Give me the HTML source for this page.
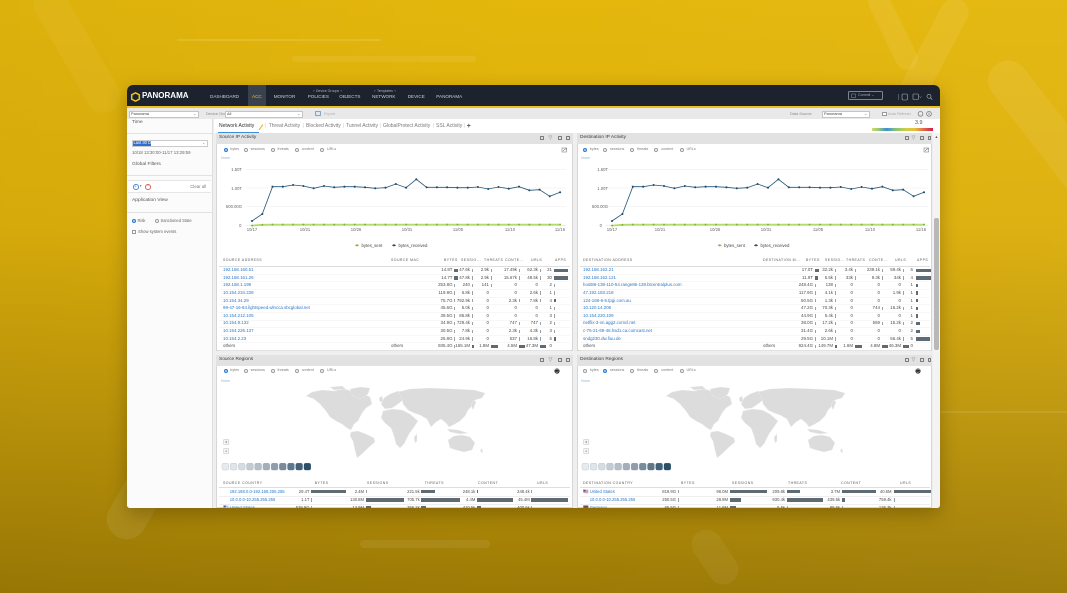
<!DOCTYPE html>
<html><head><meta charset="utf-8">
<style>
*{margin:0;padding:0;box-sizing:border-box}
html,body{width:1067px;height:593px;overflow:hidden}
body{position:relative;font-family:"Liberation Sans",sans-serif;background:#c9a00a}
.a{position:absolute}
.x{position:absolute;white-space:nowrap;line-height:1}
.s{position:absolute;background:rgba(255,255,255,.075);border-radius:40px}
.nav{font-size:4.6px;color:#c9ced5;top:95px}
.tb{font-size:3.9px;color:#8a8a8a}
.tab{font-size:5px;color:#7a7a7a;top:124.2px}
.sep{font-size:5px;color:#c8c8c8;top:124.2px}
.pt{font-size:4.8px;color:#3a3a3a}
.rl{font-size:3.7px;color:#7d7d7d}
.rd{position:absolute;width:4.2px;height:4.2px;border-radius:50%;border:0.5px solid #9a9a9a;background:#fff}
.rd.on{border-color:#2b7bd0;background:radial-gradient(circle,#2b7bd0 0 42%,#fff 50%)}
.hd{font-size:3.5px;color:#5a5a5a;letter-spacing:.45px}
.rw{position:absolute;left:0;width:1067px;height:5px;font-size:4.4px;color:#4d4d4d}
.rw .x{top:0}
.rr{position:absolute;left:0;width:1067px;height:5px;font-size:4.2px;color:#4d4d4d}
.rr .x{top:0}
.lk{color:#2b78c9}
.b{position:absolute;top:.5px;height:3.4px;background:#5e6a74}
.l{position:absolute;top:.5px;height:3.4px;width:.8px;background:#9aa2a9}
.ic{position:absolute;width:4.4px;height:4.4px;border:.6px solid #7a7a7a;border-radius:.6px}
</style></head><body>

<!-- background -->
<div class="a" style="left:0;top:0;width:1067px;height:593px;overflow:hidden">
<div class="a" style="left:0;top:0;width:1067px;height:593px;background:linear-gradient(180deg,#e4b70c 0%,#dcaf0b 38%,#bc950a 70%,#9c7a05 100%)"></div>
<div class="a" style="left:0;top:0;width:1067px;height:593px;background:linear-gradient(90deg,rgba(0,0,0,.03),rgba(255,255,255,0) 50%,rgba(255,255,255,.03))"></div>
<div class="s" style="left:906px;top:-10px;width:28px;height:175px;transform:rotate(28deg)"></div>
<div class="s" style="left:882px;top:-12px;width:22px;height:85px;transform:rotate(-26deg)"></div>
<div class="s" style="left:990px;top:60px;width:40px;height:230px;transform:rotate(-38deg);transform-origin:50% 10%"></div>
<div class="s" style="left:128px;top:420px;width:40px;height:125px;transform:rotate(30deg)"></div>
<div class="s" style="left:60px;top:-20px;width:34px;height:140px;transform:rotate(-30deg);background:rgba(255,255,255,.045)"></div>
<div class="s" style="left:700px;top:527px;width:30px;height:60px;transform:rotate(-34deg);background:rgba(255,255,255,.055)"></div>
<div class="s" style="left:177px;top:39px;width:204px;height:2px;background:rgba(255,255,255,.12)"></div>
<div class="s" style="left:292px;top:56px;width:184px;height:6px;background:rgba(255,255,255,.07)"></div>
<div class="s" style="left:360px;top:540px;width:130px;height:8px;background:rgba(255,255,255,.07)"></div>
<div class="s" style="left:939px;top:411px;width:128px;height:2px;background:rgba(255,255,255,.1)"></div>
</div>

<!-- window shadow -->
<div class="a" style="left:127px;top:85px;width:813px;height:423px;border-radius:6px 6px 3px 3px;box-shadow:0 6px 18px rgba(60,40,0,.35)"></div>

<div class="a" style="left:0;top:0;width:1067px;height:593px;overflow:hidden;clip-path:inset(85px 127px 85px 127px round 6px 6px 3px 3px)">
<div class="a" style="left:127px;top:85px;width:813px;height:423px;background:#efefef"></div>

<!-- header -->
<div class="a" style="left:127px;top:85px;width:813px;height:22px;background:#1c232e"></div>
<div class="a" style="left:127px;top:106px;width:813px;height:2px;background:#f0c020"></div>
<div class="a" style="left:247.7px;top:85px;width:18.6px;height:21px;background:#39414f"></div>
<div class="x" style="left:142px;top:92.3px;font-size:8px;font-weight:bold;color:#fff">PANORAMA</div>
<div class="x nav" style="left:210px">DASHBOARD</div>
<div class="x nav" style="left:252px;color:#f3c21b">ACC</div>
<div class="x nav" style="left:273.7px">MONITOR</div>
<div class="x nav" style="left:307.7px">POLICIES</div>
<div class="x nav" style="left:339.3px">OBJECTS</div>
<div class="x nav" style="left:372px">NETWORK</div>
<div class="x nav" style="left:407.7px">DEVICE</div>
<div class="x nav" style="left:436.3px">PANORAMA</div>
<div class="x" style="left:313px;top:89.6px;font-size:3.5px;color:#aab0b8">⌐ Device Groups ¬</div>
<div class="x" style="left:374px;top:89.6px;font-size:3.5px;color:#aab0b8">⌐ Templates ¬</div>
<div class="a" style="left:848px;top:91px;width:35px;height:9px;border:.7px solid #7d8590;border-radius:1.5px"></div>
<div class="x" style="left:858px;top:93.8px;font-size:3.6px;color:#a4abb4">Commit ⌄</div>

<!-- toolbar -->
<div class="a" style="left:127px;top:108px;width:813px;height:11px;background:#e9e9e9"></div>
<div class="a" style="left:129px;top:110.5px;width:70px;height:7px;background:#fff;border:.5px solid #c4c4c4"></div>
<div class="x tb" style="left:131px;top:112.1px;color:#444">Panorama</div>
<div class="x tb" style="left:193px;top:111.6px;color:#777">⌄</div>
<div class="x tb" style="left:206px;top:112.1px">Device Group</div>
<div class="a" style="left:225px;top:110.5px;width:78px;height:7px;background:#fff;border:.5px solid #c4c4c4"></div>
<div class="x tb" style="left:227px;top:112.1px;color:#444">All</div>
<div class="x tb" style="left:297px;top:111.6px;color:#777">⌄</div>
<div class="a" style="left:315px;top:111px;width:6px;height:5px;border:.6px solid #8aa4c0;border-radius:.6px;background:#dfe8f2"></div>
<div class="x tb" style="left:324px;top:112.1px;color:#b0b0b0">Export</div>
<div class="x tb" style="left:790px;top:112.1px">Data Source</div>
<div class="a" style="left:822px;top:110.5px;width:48px;height:7px;background:#fff;border:.5px solid #c4c4c4"></div>
<div class="x tb" style="left:824px;top:112.1px;color:#444">Panorama</div>
<div class="x tb" style="left:864px;top:111.6px;color:#777">⌄</div>
<div class="a" style="left:882px;top:111.5px;width:4.5px;height:4.5px;border:.5px solid #999;background:#fff"></div>
<div class="x tb" style="left:888px;top:112.1px;color:#aaa">Auto Refresh</div>

<!-- sidebar -->
<div class="a" style="left:127px;top:119px;width:86px;height:389px;background:#fbfbfb;border-right:1px solid #dedede"></div>
<div class="x" style="left:132px;top:120.8px;font-size:4.9px;color:#555">Time</div>
<div class="a" style="left:127px;top:133px;width:85px;height:.6px;background:#e2e2e2"></div>
<div class="a" style="left:132px;top:140px;width:76px;height:7px;background:#fff;border:.5px solid #cacaca"></div>
<div class="a" style="left:133px;top:140.8px;width:18px;height:5.4px;background:#2f6fd0"></div>
<div class="x" style="left:133.5px;top:141.4px;font-size:4.1px;color:#fff">Last 30 Days</div>
<div class="x" style="left:202px;top:140.8px;font-size:4px;color:#888">⌄</div>
<div class="x" style="left:132px;top:150.5px;font-size:4.3px;color:#666">10/18 13:30:00-11/17 13:29:59</div>
<div class="x" style="left:132px;top:162.6px;font-size:4.9px;color:#555">Global Filters</div>
<div class="a" style="left:127px;top:175px;width:85px;height:.6px;background:#e2e2e2"></div>
<div class="a" style="left:128px;top:180px;width:83px;height:13px;background:#fff;border-top:.5px solid #e6e6e6;border-bottom:.5px solid #e6e6e6"></div>
<div class="a" style="left:133px;top:184px;width:5.6px;height:5.6px;border-radius:50%;border:.7px solid #4a8fd6"></div>
<div class="x" style="left:134.3px;top:184.6px;font-size:4.4px;color:#4a8fd6">+</div>
<div class="x" style="left:139.8px;top:185px;font-size:3.4px;color:#666">▾</div>
<div class="a" style="left:145.3px;top:184px;width:5.6px;height:5.6px;border-radius:50%;border:.7px solid #e06060"></div>
<div class="x" style="left:146.6px;top:184.4px;font-size:4.4px;color:#e06060">−</div>
<div class="x" style="left:190.3px;top:185px;font-size:4.3px;color:#777">Clear all</div>
<div class="x" style="left:132px;top:198.6px;font-size:4.9px;color:#555">Application View</div>
<div class="a" style="left:127px;top:212px;width:85px;height:.6px;background:#e2e2e2"></div>
<div class="rd on" style="left:131.6px;top:219px"></div>
<div class="x" style="left:137.5px;top:219.2px;font-size:4.1px;color:#666">Risk</div>
<div class="rd" style="left:154.5px;top:219px"></div>
<div class="x" style="left:160.5px;top:219.2px;font-size:4.1px;color:#666">Sanctioned State</div>
<div class="a" style="left:131.6px;top:229.5px;width:4.3px;height:4.3px;border:.5px solid #999;background:#fff"></div>
<div class="x" style="left:138px;top:229.8px;font-size:4.2px;color:#666">Show system events</div>

<!-- tab row -->
<div class="a" style="left:214px;top:119px;width:726px;height:14px;background:#fff"></div>
<div class="x tab" style="left:219px;color:#333">Network Activity</div>
<div class="a" style="left:218px;top:131.8px;width:41px;height:1.2px;background:#3b8fd9"></div>
<div class="x sep" style="left:264.5px">|</div>
<div class="x tab" style="left:268.7px">Threat Activity</div>
<div class="x sep" style="left:302.5px">|</div>
<div class="x tab" style="left:306px">Blocked Activity</div>
<div class="x sep" style="left:343px">|</div>
<div class="x tab" style="left:346px">Tunnel Activity</div>
<div class="x sep" style="left:379.5px">|</div>
<div class="x tab" style="left:383px">GlobalProtect Activity</div>
<div class="x sep" style="left:432.5px">|</div>
<div class="x tab" style="left:436px">SSL Activity</div>
<div class="x sep" style="left:463.5px">|</div>
<div class="x" style="left:466.7px;top:122.5px;font-size:7px;font-weight:bold;color:#555">+</div>
<div class="x" style="left:915px;top:120.5px;font-size:5.4px;color:#555">3.9</div>
<div class="a" style="left:871.7px;top:128.3px;width:61.6px;height:2.4px;background:linear-gradient(90deg,#d8d86a 0%,#8cc77a 12%,#3d8ed6 24%,#7fc47a 38%,#c9cf4a 55%,#e8c03a 70%,#e86a4a 84%,#cf1f4a 100%)"></div>

<!-- panels -->
<div class="a" style="left:216px;top:133px;width:357px;height:218px;background:#fff;border:.5px solid #d6d6d6"></div>
<div class="a" style="left:577px;top:133px;width:355px;height:218px;background:#fff;border:.5px solid #d6d6d6"></div>
<div class="a" style="left:216px;top:355px;width:357px;height:153px;background:#fff;border:.5px solid #d6d6d6"></div>
<div class="a" style="left:577px;top:355px;width:355px;height:153px;background:#fff;border:.5px solid #d6d6d6"></div>
<div class="a" style="left:216px;top:133px;width:357px;height:10.5px;background:#e2e2e2"></div>
<div class="a" style="left:577px;top:133px;width:355px;height:10.5px;background:#e2e2e2"></div>
<div class="a" style="left:216px;top:355px;width:357px;height:10.5px;background:#e2e2e2"></div>
<div class="a" style="left:577px;top:355px;width:355px;height:10.5px;background:#e2e2e2"></div>
<div class="x pt" style="left:219px;top:135.8px">Source IP Activity</div>
<div class="x pt" style="left:580px;top:135.8px">Destination IP Activity</div>
<div class="x pt" style="left:219px;top:357.8px">Source Regions</div>
<div class="x pt" style="left:580px;top:357.8px">Destination Regions</div>
<!-- header icons -->
<div class="ic" style="left:540px;top:136px"></div><div class="ic" style="left:557.5px;top:136px"></div><div class="ic" style="left:566px;top:136px"></div>
<div class="ic" style="left:904.5px;top:136px"></div><div class="ic" style="left:920px;top:136px"></div><div class="ic" style="left:927.5px;top:136px;width:3px"></div>
<div class="ic" style="left:540px;top:358px"></div><div class="ic" style="left:557.5px;top:358px"></div><div class="ic" style="left:566px;top:358px"></div>
<div class="ic" style="left:904.5px;top:358px"></div><div class="ic" style="left:920px;top:358px"></div><div class="ic" style="left:927.5px;top:358px;width:3px"></div>
<div class="x" style="left:548.5px;top:135.6px;font-size:5px;color:#777">▽</div>
<div class="x" style="left:911.5px;top:135.6px;font-size:5px;color:#777">▽</div>
<div class="x" style="left:548.5px;top:357.6px;font-size:5px;color:#777">▽</div>
<div class="x" style="left:911.5px;top:357.6px;font-size:5px;color:#777">▽</div>

<!-- scrollbar -->
<div class="a" style="left:933px;top:133px;width:7px;height:375px;background:#f3f3f3"></div>
<div class="a" style="left:934.3px;top:218px;width:4.6px;height:132px;background:#b8b8b8;border-radius:2px"></div>
<div class="x" style="left:934.6px;top:135.5px;font-size:3.6px;color:#555">▲</div>

<!-- radio rows -->
<div class="rd on" style="left:223.5px;top:148px"></div><div class="x rl" style="left:230.3px;top:148.3px">bytes</div>
<div class="rd" style="left:243.5px;top:148px"></div><div class="x rl" style="left:250.5px;top:148.3px">sessions</div>
<div class="rd" style="left:270.5px;top:148px"></div><div class="x rl" style="left:277.5px;top:148.3px">threats</div>
<div class="rd" style="left:294.7px;top:148px"></div><div class="x rl" style="left:301.7px;top:148.3px">content</div>
<div class="rd" style="left:320.2px;top:148px"></div><div class="x rl" style="left:327px;top:148.3px">URLs</div>
<div class="rd on" style="left:583px;top:148px"></div><div class="x rl" style="left:589.8px;top:148.3px">bytes</div>
<div class="rd" style="left:603px;top:148px"></div><div class="x rl" style="left:610px;top:148.3px">sessions</div>
<div class="rd" style="left:630px;top:148px"></div><div class="x rl" style="left:637px;top:148.3px">threats</div>
<div class="rd" style="left:654.2px;top:148px"></div><div class="x rl" style="left:661.2px;top:148.3px">content</div>
<div class="rd" style="left:679.7px;top:148px"></div><div class="x rl" style="left:686.5px;top:148.3px">URLs</div>

<div class="rd on" style="left:223.5px;top:369px"></div><div class="x rl" style="left:230.3px;top:369.3px">bytes</div>
<div class="rd" style="left:243.5px;top:369px"></div><div class="x rl" style="left:250.5px;top:369.3px">sessions</div>
<div class="rd" style="left:270.5px;top:369px"></div><div class="x rl" style="left:277.5px;top:369.3px">threats</div>
<div class="rd" style="left:294.7px;top:369px"></div><div class="x rl" style="left:301.7px;top:369.3px">content</div>
<div class="rd" style="left:320.2px;top:369px"></div><div class="x rl" style="left:327px;top:369.3px">URLs</div>
<div class="rd" style="left:583px;top:369px"></div><div class="x rl" style="left:589.8px;top:369.3px">bytes</div>
<div class="rd on" style="left:603px;top:369px"></div><div class="x rl" style="left:610px;top:369.3px">sessions</div>
<div class="rd" style="left:630px;top:369px"></div><div class="x rl" style="left:637px;top:369.3px">threats</div>
<div class="rd" style="left:654.2px;top:369px"></div><div class="x rl" style="left:661.2px;top:369.3px">content</div>
<div class="rd" style="left:679.7px;top:369px"></div><div class="x rl" style="left:686.5px;top:369.3px">URLs</div>

<div class="x" style="left:221px;top:156.5px;font-size:3.4px;color:#8ab4dc">Home</div>
<div class="x" style="left:581px;top:156.5px;font-size:3.4px;color:#8ab4dc">Home</div>
<div class="x" style="left:221px;top:380px;font-size:3.4px;color:#8ab4dc">Home</div>
<div class="x" style="left:581px;top:380px;font-size:3.4px;color:#8ab4dc">Home</div>

<!-- SVG: charts, maps, icons -->
<svg class="a" style="left:0;top:0" width="1067" height="593" viewBox="0 0 1067 593" xmlns="http://www.w3.org/2000/svg">
<defs>
<marker id="mb" markerWidth="3" markerHeight="3" refX="1.5" refY="1.5" markerUnits="userSpaceOnUse"><circle cx="1.5" cy="1.5" r="1.05" fill="#1f4a68"/></marker>
<marker id="mg" markerWidth="3" markerHeight="3" refX="1.5" refY="1.5" markerUnits="userSpaceOnUse"><path d="M1.5,0.3 L2.7,1.5 L1.5,2.7 L0.3,1.5Z" fill="#7fb82e"/></marker>
<g id="map" fill="#dcdcdc" stroke="#f4f4f4" stroke-width=".3">
<path d="M306,396 L312,392 L322,390 L334,391 L344,389 L352,391 L356,395 L362,393 L370,397 L372,404 L366,408 L362,413 L358,421 L354,424 L351,430 L347,428 L342,424 L336,421 L330,417 L326,411 L320,404 L314,399 Z"/>
<path d="M330,387 L342,386 L346,389 L334,390 Z"/>
<path d="M350,389 L360,387 L370,388 L368,394 L360,399 L353,396 Z"/>
<path d="M351,432 L358,431 L366,434 L374,438 L375,442 L368,448 L362,454 L357,458 L355,450 L353,441 L350,436 Z"/>
<path d="M381,404 L384,398 L390,394 L398,391 L404,393 L403,400 L398,404 L392,408 L385,409 Z"/>
<path d="M398,392 L410,389 L430,388 L455,389 L474,390 L485,393 L482,398 L475,400 L472,406 L468,410 L465,416 L460,421 L455,424 L449,427 L446,423 L441,419 L436,422 L431,427 L427,419 L420,415 L414,413 L408,410 L403,404 L402,398 Z"/>
<path d="M383,411 L392,409 L402,410 L410,414 L418,421 L414,427 L409,434 L404,444 L400,448 L396,444 L394,436 L391,428 L385,423 L381,418 Z"/>
<path d="M448,440 L454,436 L462,435 L470,437 L475,443 L472,450 L464,452 L456,450 L450,448 Z"/>
<path d="M447,429 L458,430 L468,433 L460,434 L450,432 Z"/>
<path d="M379,398 L382,396 L383,401 L380,402 Z"/>
<path d="M471,405 L474,400 L476,402 L473,410 Z"/>
<path d="M414,437 L417,434 L417,441 L415,443 Z"/>
<path d="M480,451 L482,448 L483,453 Z"/>
</g>
<g id="scale">
<rect x="222" y="463.3" width="6.7" height="6.7" rx="1.6" fill="#e8ebee" stroke="#b8c0c7" stroke-width=".4"/>
<rect x="230.2" y="463.3" width="6.7" height="6.7" rx="1.6" fill="#e0e5e9" stroke="#b8c0c7" stroke-width=".4"/>
<rect x="238.4" y="463.3" width="6.7" height="6.7" rx="1.6" fill="#d6dde2" stroke="#b8c0c7" stroke-width=".4"/>
<rect x="246.6" y="463.3" width="6.7" height="6.7" rx="1.6" fill="#c3ccd3" stroke="#aab4bc" stroke-width=".4"/>
<rect x="254.8" y="463.3" width="6.7" height="6.7" rx="1.6" fill="#b4bfc8" stroke="#a0abb4" stroke-width=".4"/>
<rect x="263" y="463.3" width="6.7" height="6.7" rx="1.6" fill="#a3b0bb" stroke="#95a2ad" stroke-width=".4"/>
<rect x="271.2" y="463.3" width="6.7" height="6.7" rx="1.6" fill="#8e9eac" stroke="#8393a1" stroke-width=".4"/>
<rect x="279.4" y="463.3" width="6.7" height="6.7" rx="1.6" fill="#788b9b" stroke="#6e8191" stroke-width=".4"/>
<rect x="287.6" y="463.3" width="6.7" height="6.7" rx="1.6" fill="#5f778a" stroke="#566e81" stroke-width=".4"/>
<rect x="295.8" y="463.3" width="6.7" height="6.7" rx="1.6" fill="#436179" stroke="#3d5a72" stroke-width=".4"/>
<rect x="304" y="463.3" width="6.7" height="6.7" rx="1.6" fill="#2c4f69" stroke="#284a63" stroke-width=".4"/>
</g>
</defs>

<!-- header icons -->
<polygon points="135.5,92.8 139.3,94.8 139.3,99.2 135.5,101.2 131.7,99.2 131.7,94.8" fill="none" stroke="#f2c21a" stroke-width="1.5"/>
<line x1="898.5" y1="94" x2="898.5" y2="100" stroke="#8a919b" stroke-width=".5"/>
<rect x="902" y="94" width="5.5" height="6" rx="1.2" fill="none" stroke="#aeb4bc" stroke-width=".6"/>
<rect x="913" y="94" width="5.5" height="5.5" rx=".6" fill="none" stroke="#aeb4bc" stroke-width=".6"/>
<path d="M919.5,96.5 l1,1 l1,-1" fill="none" stroke="#aeb4bc" stroke-width=".5"/>
<circle cx="929" cy="96.3" r="2" fill="none" stroke="#aeb4bc" stroke-width=".6"/>
<line x1="930.4" y1="97.7" x2="932.3" y2="99.6" stroke="#aeb4bc" stroke-width=".7"/>
<rect x="851.5" y="94" width="4" height="3.5" fill="none" stroke="#8d949e" stroke-width=".5"/>
<circle cx="920.5" cy="113.8" r="2.4" fill="none" stroke="#666" stroke-width=".6"/>
<circle cx="929" cy="113.8" r="2.4" fill="none" stroke="#666" stroke-width=".6"/>
<line x1="929" y1="112.5" x2="929" y2="115" stroke="#666" stroke-width=".6"/>
<!-- pencil -->
<line x1="259" y1="130" x2="263" y2="124.5" stroke="#e9b824" stroke-width="1.1"/>
<!-- chart icons -->
<rect x="562" y="148" width="4.5" height="4" fill="none" stroke="#666" stroke-width=".5"/>
<path d="M563,151 L564.5,149.5 L566.5,148.5" stroke="#444" stroke-width=".5" fill="none"/>
<rect x="924" y="148" width="4.5" height="4" fill="none" stroke="#666" stroke-width=".5"/>
<path d="M925,151 L926.5,149.5 L928.5,148.5" stroke="#444" stroke-width=".5" fill="none"/>
<!-- globe icons -->
<circle cx="557" cy="371" r="2.6" fill="#333"/><path d="M555,370 q2,-2 4,0 M555.5,372 q1.5,1 3,-0.5" stroke="#ddd" stroke-width=".5" fill="none"/>
<circle cx="918" cy="371" r="2.6" fill="#333"/><path d="M916,370 q2,-2 4,0 M916.5,372 q1.5,1 3,-0.5" stroke="#ddd" stroke-width=".5" fill="none"/>

<!-- gridlines -->
<g stroke="#ececec" stroke-width=".5">
<line x1="246" y1="169.3" x2="566" y2="169.3"/><line x1="246" y1="188" x2="566" y2="188"/><line x1="246" y1="206.7" x2="566" y2="206.7"/>
<line x1="606" y1="169.3" x2="928" y2="169.3"/><line x1="606" y1="188" x2="928" y2="188"/><line x1="606" y1="206.7" x2="928" y2="206.7"/>
</g>
<g stroke="#d8d8d8" stroke-width=".5"><line x1="246" y1="225.5" x2="566" y2="225.5"/><line x1="606" y1="225.5" x2="928" y2="225.5"/></g>
<g font-family="Liberation Sans" font-size="4.2" fill="#666">
<text x="242" y="170.8" text-anchor="end">1.50T</text>
<text x="242" y="189.8" text-anchor="end">1.00T</text>
<text x="242" y="208.2" text-anchor="end">500.00G</text>
<text x="241.5" y="227.2" text-anchor="end">0</text>
<text x="608" y="170.8" text-anchor="end">1.50T</text>
<text x="608" y="189.8" text-anchor="end">1.00T</text>
<text x="608" y="208.2" text-anchor="end">500.00G</text>
<text x="602" y="227.2" text-anchor="end">0</text>
<text x="252" y="230.8" text-anchor="middle">10/17</text>
<text x="305" y="230.8" text-anchor="middle">10/21</text>
<text x="356" y="230.8" text-anchor="middle">10/26</text>
<text x="407" y="230.8" text-anchor="middle">10/31</text>
<text x="458" y="230.8" text-anchor="middle">11/05</text>
<text x="510" y="230.8" text-anchor="middle">11/10</text>
<text x="560" y="230.8" text-anchor="middle">11/16</text>
<text x="612" y="230.8" text-anchor="middle">10/17</text>
<text x="660" y="230.8" text-anchor="middle">10/21</text>
<text x="715" y="230.8" text-anchor="middle">10/26</text>
<text x="766" y="230.8" text-anchor="middle">10/31</text>
<text x="818" y="230.8" text-anchor="middle">11/05</text>
<text x="870" y="230.8" text-anchor="middle">11/10</text>
<text x="921" y="230.8" text-anchor="middle">11/16</text>
</g>
<!-- series -->
<g fill="none">
<polyline stroke="#b7da6e" stroke-width="1.8" marker-start="url(#mg)" marker-mid="url(#mg)" marker-end="url(#mg)" points="252,225.6 262.3,224.8 272.5,224.6 282.8,224.6 293.1,224.6 303.4,224.6 313.6,224.6 323.9,224.6 334.2,224.6 344.4,224.6 354.7,224.6 365,224.6 375.2,224.6 385.5,224.6 395.8,224.6 406.1,224.6 416.3,224.6 426.6,224.6 436.9,224.6 447.1,224.6 457.4,224.6 467.7,224.6 477.9,224.6 488.2,224.6 498.5,224.6 508.8,224.6 519,224.6 529.3,224.6 539.6,224.6 549.8,224.6 560.1,224.6"/>
<polyline stroke="#b7da6e" stroke-width="1.8" marker-start="url(#mg)" marker-mid="url(#mg)" marker-end="url(#mg)" points="612,225.6 622.4,224.8 632.8,224.6 643.2,224.6 653.6,224.6 664,224.6 674.4,224.6 684.8,224.6 695.2,224.6 705.6,224.6 716,224.6 726.4,224.6 736.8,224.6 747.2,224.6 757.6,224.6 768,224.6 778.4,224.6 788.8,224.6 799.2,224.6 809.6,224.6 820,224.6 830.4,224.6 840.8,224.6 851.2,224.6 861.6,224.6 872,224.6 882.4,224.6 892.8,224.6 903.2,224.6 913.6,224.6 924,224.6"/>
<polyline stroke="#27577a" stroke-width=".8" marker-start="url(#mb)" marker-mid="url(#mb)" marker-end="url(#mb)" points="252,221 262.3,214 272.5,186.7 282.8,186.7 293.1,185 303.4,186 313.6,188.3 323.9,186 334.2,187.3 344.4,186.7 354.7,186.7 365,187.3 375.2,188.3 385.5,187.7 395.8,184 406.1,187.7 416.3,179.3 426.6,187.3 436.9,187.3 447.1,187.3 457.4,187.7 467.7,187.7 477.9,187 488.2,189 498.5,187 508.8,188.7 519,186.7 529.3,190.3 539.6,189.7 549.8,196.3 560.1,192.3"/>
<polyline stroke="#27577a" stroke-width=".8" marker-start="url(#mb)" marker-mid="url(#mb)" marker-end="url(#mb)" points="612,221 622.4,214 632.8,186.7 643.2,186.7 653.6,185 664,186 674.4,188.3 684.8,186 695.2,187.3 705.6,186.7 716,186.7 726.4,187.3 736.8,188.3 747.2,187.7 757.6,184 768,187.7 778.4,179.3 788.8,187.3 799.2,187.3 809.6,187.3 820,187.7 830.4,187.7 840.8,187 851.2,189 861.6,187 872,188.7 882.4,186.7 892.8,190.3 903.2,189.7 913.6,196.3 924,192.3"/>
</g>
<!-- legends -->
<line x1="355" y1="245.3" x2="359" y2="245.3" stroke="#8dc63f" stroke-width=".8"/><circle cx="357" cy="245.3" r="1.1" fill="#7fb82e"/>
<line x1="392" y1="245.3" x2="396" y2="245.3" stroke="#27577a" stroke-width=".8"/><circle cx="394" cy="245.3" r="1.1" fill="#1f4a68"/>
<line x1="717.7" y1="245.3" x2="721.7" y2="245.3" stroke="#8dc63f" stroke-width=".8"/><circle cx="719.7" cy="245.3" r="1.1" fill="#7fb82e"/>
<line x1="754" y1="245.3" x2="758" y2="245.3" stroke="#27577a" stroke-width=".8"/><circle cx="756" cy="245.3" r="1.1" fill="#1f4a68"/>
<g font-family="Liberation Sans" font-size="4.3" fill="#444">
<text x="361.5" y="246.8">bytes_sent</text><text x="398.5" y="246.8">bytes_received</text>
<text x="724" y="246.8">bytes_sent</text><text x="760.5" y="246.8">bytes_received</text>
</g>
<!-- maps -->
<use href="#map"/>
<use href="#map" transform="translate(360,0)"/>
<use href="#scale"/>
<use href="#scale" transform="translate(360,0)"/>
<g fill="#f4f4f4" stroke="#b5b5b5" stroke-width=".4">
<rect x="223.7" y="439.3" width="5" height="5.5" rx=".6"/><rect x="223.7" y="448.3" width="5" height="5.5" rx=".6"/>
<rect x="583.7" y="439.3" width="5" height="5.5" rx=".6"/><rect x="583.7" y="448.3" width="5" height="5.5" rx=".6"/>
</g>
<g fill="#555"><rect x="225.5" y="441.7" width="1.4" height=".6"/><rect x="225.9" y="441.3" width=".6" height="1.4"/><rect x="225.5" y="450.8" width="1.4" height=".6"/>
<rect x="585.5" y="441.7" width="1.4" height=".6"/><rect x="585.9" y="441.3" width=".6" height="1.4"/><rect x="585.5" y="450.8" width="1.4" height=".6"/></g>
<!-- flags -->
<rect x="223.5" y="505.5" width="5" height="2.5" fill="#b8c4e0"/><rect x="223.5" y="505.5" width="2.2" height="1.8" fill="#3c5aa8"/>
<rect x="583.3" y="489.7" width="5" height="3.5" fill="#d9a0a8"/><rect x="583.3" y="489.7" width="2.2" height="1.8" fill="#3c5aa8"/>
<rect x="583.3" y="505.6" width="5" height="1.2" fill="#333"/><rect x="583.3" y="506.8" width="5" height="1.2" fill="#d33"/>
</svg>

<!-- ===== Source IP table ===== -->
<div class="x hd" style="left:223px;top:259.3px">SOURCE ADDRESS</div>
<div class="x hd" style="left:391px;top:259.3px">SOURCE MAC</div>
<div class="x hd" style="left:444px;top:259.3px">BYTES</div>
<div class="x hd" style="left:461px;top:259.3px">SESSIO...</div>
<div class="x hd" style="left:484px;top:259.3px">THREATS</div>
<div class="x hd" style="left:505px;top:259.3px">CONTE...</div>
<div class="x hd" style="left:531px;top:259.3px">URLS</div>
<div class="x hd" style="left:555px;top:259.3px">APPS</div>
<div class="a" style="left:219px;top:265.6px;width:351px;height:.6px;background:#dedede"></div>
<div class="a" style="left:219px;top:266.5px;width:351px;height:84px;background:repeating-linear-gradient(180deg,transparent 0,transparent 7.12px,#efefef 7.12px,#efefef 7.62px)"></div>

<div class="rw" style="top:268.1px"><span class="x lk" style="left:223px">192.168.160.51</span><span class="x" style="right:614.5px">14.8T</span><i class="b" style="left:454px;width:4px"></i><span class="x" style="right:597px">47.6k</span><i class="l" style="left:471.5px"></i><span class="x" style="right:578px">2.9k</span><i class="l" style="left:490.5px"></i><span class="x" style="right:550px">17.49k</span><i class="l" style="left:518.5px"></i><span class="x" style="right:529px">62.3k</span><i class="l" style="left:539.5px"></i><span class="x" style="right:515px">21</span><i class="b" style="left:554px;width:14px"></i></div>
<div class="rw" style="top:275.72px"><span class="x lk" style="left:223px">192.168.161.26</span><span class="x" style="right:614.5px">14.7T</span><i class="b" style="left:454px;width:4px"></i><span class="x" style="right:597px">47.8k</span><i class="l" style="left:471.5px"></i><span class="x" style="right:578px">2.9k</span><i class="l" style="left:490.5px"></i><span class="x" style="right:550px">15.67k</span><i class="l" style="left:518.5px"></i><span class="x" style="right:529px">49.5k</span><i class="l" style="left:539.5px"></i><span class="x" style="right:515px">30</span><i class="b" style="left:554px;width:14px"></i></div>
<div class="rw" style="top:283.34px"><span class="x lk" style="left:223px">192.168.1.199</span><span class="x" style="right:614.5px">253.8G</span><i class="l" style="left:454px"></i><span class="x" style="right:597px">240</span><i class="l" style="left:471.5px"></i><span class="x" style="right:578px">141</span><i class="l" style="left:490.5px"></i><span class="x" style="right:550px">0</span><span class="x" style="right:529px">0</span><span class="x" style="right:515px">2</span><i class="l" style="left:554px"></i></div>
<div class="rw" style="top:290.96px"><span class="x lk" style="left:223px">10.154.234.228</span><span class="x" style="right:614.5px">119.8G</span><i class="l" style="left:454px"></i><span class="x" style="right:597px">6.8k</span><i class="l" style="left:471.5px"></i><span class="x" style="right:578px">0</span><span class="x" style="right:550px">0</span><span class="x" style="right:529px">2.6k</span><i class="l" style="left:539.5px"></i><span class="x" style="right:515px">1</span><i class="l" style="left:554px"></i></div>
<div class="rw" style="top:298.58px"><span class="x lk" style="left:223px">10.154.34.29</span><span class="x" style="right:614.5px">75.7G</span><i class="l" style="left:454px"></i><span class="x" style="right:597px">792.9k</span><i class="l" style="left:471.5px"></i><span class="x" style="right:578px">0</span><span class="x" style="right:550px">2.3k</span><i class="l" style="left:518.5px"></i><span class="x" style="right:529px">7.8k</span><i class="l" style="left:539.5px"></i><span class="x" style="right:515px">4</span><i class="b" style="left:554px;width:2px"></i></div>
<div class="rw" style="top:306.2px"><span class="x lk" style="left:223px">99-47-16-84.lightspeed.wlncca.sbcglobal.net</span><span class="x" style="right:614.5px">45.6G</span><i class="l" style="left:454px"></i><span class="x" style="right:597px">5.0k</span><i class="l" style="left:471.5px"></i><span class="x" style="right:578px">0</span><span class="x" style="right:550px">0</span><span class="x" style="right:529px">0</span><span class="x" style="right:515px">1</span><i class="l" style="left:554px"></i></div>
<div class="rw" style="top:313.82px"><span class="x lk" style="left:223px">10.154.212.105</span><span class="x" style="right:614.5px">39.5G</span><i class="l" style="left:454px"></i><span class="x" style="right:597px">85.8k</span><i class="l" style="left:471.5px"></i><span class="x" style="right:578px">0</span><span class="x" style="right:550px">0</span><span class="x" style="right:529px">0</span><span class="x" style="right:515px">3</span><i class="l" style="left:554px"></i></div>
<div class="rw" style="top:321.44px"><span class="x lk" style="left:223px">10.154.9.132</span><span class="x" style="right:614.5px">34.9G</span><i class="l" style="left:454px"></i><span class="x" style="right:597px">729.4k</span><i class="l" style="left:471.5px"></i><span class="x" style="right:578px">0</span><span class="x" style="right:550px">747</span><i class="l" style="left:518.5px"></i><span class="x" style="right:529px">747</span><i class="l" style="left:539.5px"></i><span class="x" style="right:515px">2</span><i class="l" style="left:554px"></i></div>
<div class="rw" style="top:329.06px"><span class="x lk" style="left:223px">10.154.226.137</span><span class="x" style="right:614.5px">30.5G</span><i class="l" style="left:454px"></i><span class="x" style="right:597px">7.8k</span><i class="l" style="left:471.5px"></i><span class="x" style="right:578px">0</span><span class="x" style="right:550px">2.3k</span><i class="l" style="left:518.5px"></i><span class="x" style="right:529px">4.3k</span><i class="l" style="left:539.5px"></i><span class="x" style="right:515px">3</span><i class="l" style="left:554px"></i></div>
<div class="rw" style="top:336.68px"><span class="x lk" style="left:223px">10.154.2.23</span><span class="x" style="right:614.5px">25.8G</span><i class="l" style="left:454px"></i><span class="x" style="right:597px">24.9k</span><i class="l" style="left:471.5px"></i><span class="x" style="right:578px">0</span><span class="x" style="right:550px">537</span><i class="l" style="left:518.5px"></i><span class="x" style="right:529px">16.8k</span><i class="l" style="left:539.5px"></i><span class="x" style="right:515px">5</span><i class="b" style="left:554px;width:2px"></i></div>
<div class="rw" style="top:344.3px"><span class="x" style="left:223px">others</span><span class="x" style="left:391px">others</span><span class="x" style="right:614.5px">935.4G</span><i class="l" style="left:454px"></i><span class="x" style="right:597px">165.1M</span><i class="b" style="left:471.5px;width:2px"></i><span class="x" style="right:578px">1.8M</span><i class="b" style="left:490.5px;width:7px"></i><span class="x" style="right:550px">4.5M</span><i class="b" style="left:518.5px;width:6px"></i><span class="x" style="right:529px">47.3M</span><i class="b" style="left:539.5px;width:6px"></i><span class="x" style="right:515px">0</span></div>

<!-- ===== Destination IP table ===== -->
<div class="x hd" style="left:583px;top:259.3px">DESTINATION ADDRESS</div>
<div class="x hd" style="left:763px;top:259.3px">DESTINATION M...</div>
<div class="x hd" style="left:806px;top:259.3px">BYTES</div>
<div class="x hd" style="left:825px;top:259.3px">SESSIO...</div>
<div class="x hd" style="left:846px;top:259.3px">THREATS</div>
<div class="x hd" style="left:869px;top:259.3px">CONTE...</div>
<div class="x hd" style="left:895px;top:259.3px">URLS</div>
<div class="x hd" style="left:917px;top:259.3px">APPS</div>
<div class="a" style="left:580px;top:265.6px;width:350px;height:.6px;background:#dedede"></div>
<div class="a" style="left:580px;top:266.5px;width:350px;height:84px;background:repeating-linear-gradient(180deg,transparent 0,transparent 7.12px,#efefef 7.12px,#efefef 7.62px)"></div>

<div class="rw" style="top:268.1px"><span class="x lk" style="left:583px">192.168.162.21</span><span class="x" style="right:254px">17.0T</span><i class="b" style="left:815px;width:4px"></i><span class="x" style="right:234px">32.2k</span><i class="l" style="left:835px"></i><span class="x" style="right:214px">3.4k</span><i class="l" style="left:855px"></i><span class="x" style="right:187px">239.1k</span><i class="l" style="left:882px"></i><span class="x" style="right:166px">59.4k</span><i class="l" style="left:903px"></i><span class="x" style="right:154px">6</span><i class="b" style="left:916px;width:15px"></i></div>
<div class="rw" style="top:275.72px"><span class="x lk" style="left:583px">192.168.162.121</span><span class="x" style="right:254px">11.9T</span><i class="b" style="left:815px;width:3px"></i><span class="x" style="right:234px">5.5k</span><i class="l" style="left:835px"></i><span class="x" style="right:214px">33k</span><i class="l" style="left:855px"></i><span class="x" style="right:187px">9.3k</span><i class="l" style="left:882px"></i><span class="x" style="right:166px">34k</span><i class="l" style="left:903px"></i><span class="x" style="right:154px">4</span><i class="b" style="left:916px;width:15px"></i></div>
<div class="rw" style="top:283.34px"><span class="x lk" style="left:583px">host86-138-110-54.range86-138.btcentralplus.com</span><span class="x" style="right:254px">248.4G</span><i class="l" style="left:815px"></i><span class="x" style="right:234px">138</span><i class="l" style="left:835px"></i><span class="x" style="right:214px">0</span><span class="x" style="right:187px">0</span><span class="x" style="right:166px">0</span><span class="x" style="right:154px">1</span><i class="b" style="left:916px;width:2px"></i></div>
<div class="rw" style="top:290.96px"><span class="x lk" style="left:583px">47.192.183.218</span><span class="x" style="right:254px">117.9G</span><i class="l" style="left:815px"></i><span class="x" style="right:234px">4.1k</span><i class="l" style="left:835px"></i><span class="x" style="right:214px">0</span><span class="x" style="right:187px">0</span><span class="x" style="right:166px">1.9k</span><i class="l" style="left:903px"></i><span class="x" style="right:154px">1</span><i class="b" style="left:916px;width:2px"></i></div>
<div class="rw" style="top:298.58px"><span class="x lk" style="left:583px">124-168-6-6.tpgi.com.au</span><span class="x" style="right:254px">50.5G</span><i class="l" style="left:815px"></i><span class="x" style="right:234px">1.3k</span><i class="l" style="left:835px"></i><span class="x" style="right:214px">0</span><span class="x" style="right:187px">0</span><span class="x" style="right:166px">0</span><span class="x" style="right:154px">1</span><i class="b" style="left:916px;width:2px"></i></div>
<div class="rw" style="top:306.2px"><span class="x lk" style="left:583px">10.120.14.206</span><span class="x" style="right:254px">47.2G</span><i class="l" style="left:815px"></i><span class="x" style="right:234px">70.3k</span><i class="l" style="left:835px"></i><span class="x" style="right:214px">0</span><span class="x" style="right:187px">744</span><i class="l" style="left:882px"></i><span class="x" style="right:166px">16.2k</span><i class="l" style="left:903px"></i><span class="x" style="right:154px">1</span><i class="b" style="left:916px;width:2px"></i></div>
<div class="rw" style="top:313.82px"><span class="x lk" style="left:583px">10.154.220.109</span><span class="x" style="right:254px">44.9G</span><i class="l" style="left:815px"></i><span class="x" style="right:234px">5.4k</span><i class="l" style="left:835px"></i><span class="x" style="right:214px">0</span><span class="x" style="right:187px">0</span><span class="x" style="right:166px">0</span><span class="x" style="right:154px">1</span><i class="b" style="left:916px;width:2px"></i></div>
<div class="rw" style="top:321.44px"><span class="x lk" style="left:583px">netflix-3-vn.agg2.comcl.net</span><span class="x" style="right:254px">38.0G</span><i class="l" style="left:815px"></i><span class="x" style="right:234px">17.2k</span><i class="l" style="left:835px"></i><span class="x" style="right:214px">0</span><span class="x" style="right:187px">569</span><i class="l" style="left:882px"></i><span class="x" style="right:166px">15.2k</span><i class="l" style="left:903px"></i><span class="x" style="right:154px">2</span><i class="b" style="left:916px;width:4px"></i></div>
<div class="rw" style="top:329.06px"><span class="x lk" style="left:583px">c-76-21-69-46.hsd1.ca.comcast.net</span><span class="x" style="right:254px">31.4G</span><i class="l" style="left:815px"></i><span class="x" style="right:234px">2.6k</span><i class="l" style="left:835px"></i><span class="x" style="right:214px">0</span><span class="x" style="right:187px">0</span><span class="x" style="right:166px">0</span><span class="x" style="right:154px">2</span><i class="b" style="left:916px;width:4px"></i></div>
<div class="rw" style="top:336.68px"><span class="x lk" style="left:583px">sndg230.dw.fiuu.de</span><span class="x" style="right:254px">29.5G</span><i class="l" style="left:815px"></i><span class="x" style="right:234px">10.1M</span><i class="l" style="left:835px"></i><span class="x" style="right:214px">0</span><span class="x" style="right:187px">0</span><span class="x" style="right:166px">56.4k</span><i class="l" style="left:903px"></i><span class="x" style="right:154px">5</span><i class="b" style="left:916px;width:14px"></i></div>
<div class="rw" style="top:344.3px"><span class="x" style="left:583px">others</span><span class="x" style="left:763px">others</span><span class="x" style="right:254px">924.4G</span><i class="l" style="left:815px"></i><span class="x" style="right:234px">149.7M</span><i class="b" style="left:835px;width:2px"></i><span class="x" style="right:214px">1.6M</span><i class="b" style="left:855px;width:7px"></i><span class="x" style="right:187px">4.8M</span><i class="b" style="left:882px;width:6px"></i><span class="x" style="right:166px">46.3M</span><i class="b" style="left:903px;width:6px"></i><span class="x" style="right:154px">0</span></div>

<!-- ===== Source region table ===== -->
<div class="x hd" style="left:223px;top:481.5px">SOURCE COUNTRY</div>
<div class="x hd" style="left:314.7px;top:481.5px">BYTES</div>
<div class="x hd" style="left:367px;top:481.5px">SESSIONS</div>
<div class="x hd" style="left:424.7px;top:481.5px">THREATS</div>
<div class="x hd" style="left:478px;top:481.5px">CONTENT</div>
<div class="x hd" style="left:537px;top:481.5px">URLS</div>
<div class="a" style="left:219px;top:487px;width:351px;height:.6px;background:#dedede"></div>
<div class="a" style="left:219px;top:495.8px;width:351px;height:.5px;background:#efefef"></div>
<div class="a" style="left:219px;top:503.8px;width:351px;height:.5px;background:#efefef"></div>
<div class="rr" style="top:489.6px"><span class="x lk" style="left:229.7px">192.168.0.0-192.168.255.255</span><span class="x" style="right:757.5px">29.4T</span><i class="b" style="left:311.3px;width:35px"></i><span class="x" style="right:703px">2.4M</span><i class="l" style="left:365.7px"></i><span class="x" style="right:647.3px">221.5k</span><i class="b" style="left:421.3px;width:13.4px"></i><span class="x" style="right:591.7px">248.1k</span><i class="b" style="left:477.3px;width:1.2px"></i><span class="x" style="right:537.3px">248.4k</span><i class="l" style="left:530.7px"></i></div>
<div class="rr" style="top:497.9px"><span class="x lk" style="left:229.7px">10.0.0.0-10.255.255.255</span><span class="x" style="right:757.5px">1.1T</span><i class="l" style="left:311.3px"></i><span class="x" style="right:703px">130.8M</span><i class="b" style="left:365.7px;width:38px"></i><span class="x" style="right:647.3px">705.7k</span><i class="b" style="left:421.3px;width:38.4px"></i><span class="x" style="right:591.7px">4.4M</span><i class="b" style="left:477.3px;width:35.7px"></i><span class="x" style="right:537.3px">45.4M</span><i class="b" style="left:530.7px;width:37.3px"></i></div>
<div class="rr" style="top:505.6px;height:2.4px;overflow:hidden"><span class="x lk" style="left:229.7px">United States</span><span class="x" style="right:757.5px">538.8G</span><i class="l" style="left:311.3px"></i><span class="x" style="right:703px">13.9M</span><i class="b" style="left:365.7px;width:5px"></i><span class="x" style="right:647.3px">356.2k</span><i class="b" style="left:421.3px;width:5px"></i><span class="x" style="right:591.7px">410.5k</span><i class="b" style="left:477.3px;width:4px"></i><span class="x" style="right:537.3px">400.5k</span><i class="l" style="left:530.7px"></i></div>

<!-- ===== Destination region table ===== -->
<div class="x hd" style="left:583px;top:481.5px">DESTINATION COUNTRY</div>
<div class="x hd" style="left:681px;top:481.5px">BYTES</div>
<div class="x hd" style="left:732px;top:481.5px">SESSIONS</div>
<div class="x hd" style="left:788px;top:481.5px">THREATS</div>
<div class="x hd" style="left:841px;top:481.5px">CONTENT</div>
<div class="x hd" style="left:900px;top:481.5px">URLS</div>
<div class="a" style="left:580px;top:487px;width:350px;height:.6px;background:#dedede"></div>
<div class="a" style="left:580px;top:495.8px;width:350px;height:.5px;background:#efefef"></div>
<div class="a" style="left:580px;top:503.8px;width:350px;height:.5px;background:#efefef"></div>
<div class="rr" style="top:489.6px"><span class="x lk" style="left:589.7px">United States</span><span class="x" style="right:391px">819.9G</span><i class="l" style="left:678px"></i><span class="x" style="right:339px">96.0M</span><i class="b" style="left:729.7px;width:37.6px"></i><span class="x" style="right:282px">209.8k</span><i class="b" style="left:786.5px;width:13.5px"></i><span class="x" style="right:227px">3.7M</span><i class="b" style="left:841.5px;width:34.5px"></i><span class="x" style="right:175.5px">40.6M</span><i class="b" style="left:893.5px;width:37.5px"></i></div>
<div class="rr" style="top:497.9px"><span class="x lk" style="left:589.7px">10.0.0.0-10.255.255.255</span><span class="x" style="right:391px">250.5G</span><i class="l" style="left:678px"></i><span class="x" style="right:339px">28.9M</span><i class="b" style="left:729.7px;width:11.3px"></i><span class="x" style="right:282px">930.4k</span><i class="b" style="left:786.5px;width:36.5px"></i><span class="x" style="right:227px">439.5k</span><i class="b" style="left:841.5px;width:3.5px"></i><span class="x" style="right:175.5px">759.4k</span><i class="l" style="left:893.5px"></i></div>
<div class="rr" style="top:505.6px;height:2.4px;overflow:hidden"><span class="x lk" style="left:589.7px">Germany</span><span class="x" style="right:391px">65.5G</span><i class="l" style="left:678px"></i><span class="x" style="right:339px">11.8M</span><i class="b" style="left:729.7px;width:6px"></i><span class="x" style="right:282px">5.5k</span><i class="l" style="left:786.5px"></i><span class="x" style="right:227px">88.6k</span><i class="l" style="left:841.5px"></i><span class="x" style="right:175.5px">136.3k</span><i class="l" style="left:893.5px"></i></div>

</div>
</body></html>
